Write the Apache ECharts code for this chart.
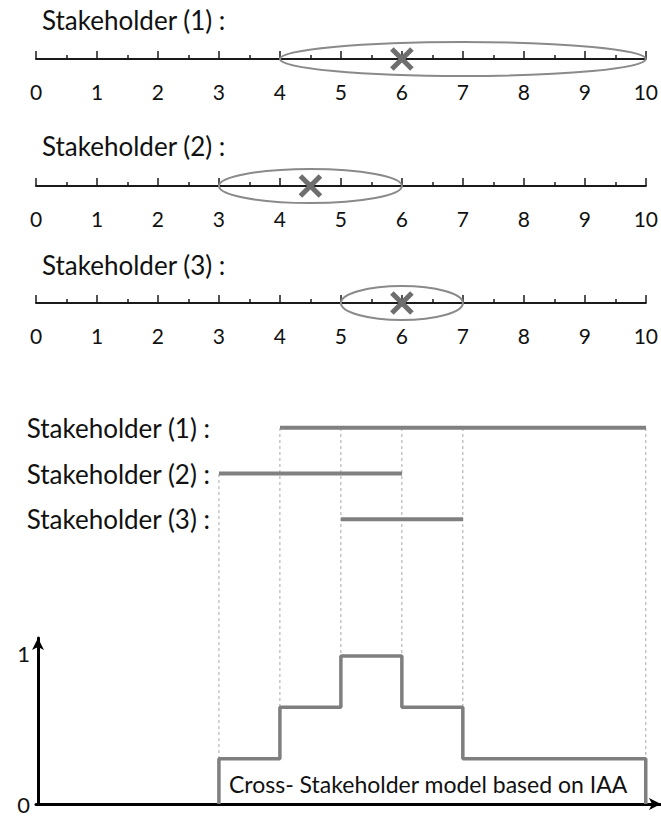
<!DOCTYPE html>
<html>
<head>
<meta charset="utf-8">
<script src="https://cdn.jsdelivr.net/npm/echarts@6/dist/echarts.min.js"></script>
<style>
  html, body { margin: 0; padding: 0; background: #fff; }
  #main { width: 661px; height: 819px; }
</style>
</head>
<body>
<div id="main"></div>
<script>
// stakeholder ranges on the 0..10 scale
const stakeholders = ['Stakeholder (1) :', 'Stakeholder (2) :', 'Stakeholder (3) :']
const rangeLow = [4, 3, 5]
const rangeHigh = [10, 6, 7]
const bestGuess = [6, 4.5, 6]
const tickLabels = ['0', '1', '2', '3', '4', '5', '6', '7', '8', '9', '10']

// cross-stakeholder step model
const stepX = [3, 3, 4, 5, 6, 7, 10]
const stepY = [0, 0.3, 0.64, 0.98, 0.64, 0.3, 0]
const levelLabels = ['0', '1']
const modelLabel = 'Cross- Stakeholder model based on IAA'

// dotted guides (x, top, bottom) in the model's y units
const guideX = [3, 4, 5, 6, 7, 10]
const guideTop = [2.185, 2.49, 2.49, 2.49, 2.49, 2.49]
const guideBottom = [0.3, 0.64, 0.98, 0.98, 0.64, 0.3]

const font = 'Lato'
const lineY = [59, 186, 303]
const labelY = [20, 146, 265]

let myChart = echarts.init(document.getElementById('main'), null, {renderer: 'svg'})

let grids = []
let xAxes = []
let yAxes = []
let series = []
let graphics = []

lineY.forEach((y, i) => {
  // 1px high grid: the axis line sits at its bottom edge
  grids.push({left: 36, width: 610, top: y - 1, height: 1})
  xAxes.push({
    gridIndex: i, type: 'value', min: 0, max: 10, interval: 1, position: 'bottom',
    axisLine: {show: true, onZero: false, lineStyle: {color: '#1a1a1a', width: 2}},
    axisTick: {show: true, inside: true, length: 8, lineStyle: {color: '#1a1a1a', width: 1.5}},
    minorTick: {show: true, splitNumber: 2, length: 4, lineStyle: {color: '#1a1a1a', width: 1.5}},
    axisLabel: {margin: 22, fontSize: 21, fontFamily: font, color: '#111',
      formatter: v => tickLabels[v] ?? ''},
    splitLine: {show: false}
  })
  yAxes.push({gridIndex: i, type: 'value', min: 0, max: 1, show: false})
  series.push({
    type: 'custom', xAxisIndex: i, yAxisIndex: i,
    data: [[rangeLow[i], rangeHigh[i]]],
    renderItem: (params, api) => {
      let a = api.coord([api.value(0), 0])
      let b = api.coord([api.value(1), 0])
      return {
        type: 'ellipse',
        shape: {cx: (a[0] + b[0]) / 2, cy: a[1], rx: (b[0] - a[0]) / 2, ry: 17},
        style: {fill: 'none', stroke: '#8a8a8a', lineWidth: 2}
      }
    }
  })
  series.push({
    type: 'custom', xAxisIndex: i, yAxisIndex: i,
    data: [[bestGuess[i], 0]],
    renderItem: (params, api) => {
      let c = api.coord([api.value(0), 0])
      let s = 10
      let st = {stroke: '#6e6e6e', lineWidth: 5}
      return {
        type: 'group',
        children: [
          {type: 'line', shape: {x1: c[0] - s, y1: c[1] - s, x2: c[0] + s, y2: c[1] + s}, style: st},
          {type: 'line', shape: {x1: c[0] - s, y1: c[1] + s, x2: c[0] + s, y2: c[1] - s}, style: st}
        ]
      }
    }
  })
  graphics.push({
    type: 'text', x: 42, y: labelY[i],
    style: {text: stakeholders[i], fontSize: 26, fontFamily: font, fill: '#111', verticalAlign: 'middle'}
  })
})

// grid 3: model area (x axis with arrow, guides, step line)
grids.push({left: 36, width: 625, top: 428, height: 376})
xAxes.push({
  gridIndex: 3, type: 'value', min: 0, max: 10.25,
  axisLine: {show: true, onZero: false, symbol: ['none', 'arrow'], symbolSize: [9, 12],
    lineStyle: {color: '#000', width: 3}},
  axisTick: {show: false}, axisLabel: {show: false}, splitLine: {show: false}
})
yAxes.push({gridIndex: 3, type: 'value', min: 0, max: 2.49, show: false})

// grid 4: y axis arrow with 0 / 1
grids.push({left: 38, width: 10, top: 638, height: 166})
xAxes.push({gridIndex: 4, type: 'value', min: 0, max: 1, show: false})
yAxes.push({
  gridIndex: 4, type: 'value', min: 0, max: 1.1, interval: 1,
  axisLine: {show: true, onZero: false, symbol: ['none', 'arrow'], symbolSize: [9, 12],
    lineStyle: {color: '#000', width: 3}},
  axisTick: {show: false},
  axisLabel: {margin: 8, fontSize: 22, fontFamily: font, color: '#111',
    formatter: v => levelLabels[v] ?? ''},
  splitLine: {show: false}
})

// grid 5: stakeholder rows
grids.push({left: 36, width: 610, top: 405, height: 137})
xAxes.push({gridIndex: 5, type: 'value', min: 0, max: 10, show: false})
yAxes.push({
  gridIndex: 5, type: 'category', data: stakeholders, inverse: true, offset: -176,
  axisLine: {show: false}, axisTick: {show: false},
  axisLabel: {margin: 2, fontSize: 26, fontFamily: font, color: '#111'},
  splitLine: {show: false}
})

series.push({
  type: 'custom', xAxisIndex: 3, yAxisIndex: 3,
  data: guideX.map((x, i) => [x, guideTop[i], guideBottom[i]]),
  renderItem: (params, api) => {
    let a = api.coord([api.value(0), api.value(1)])
    let b = api.coord([api.value(0), api.value(2)])
    return {
      type: 'line',
      shape: {x1: a[0], y1: a[1], x2: b[0], y2: b[1]},
      style: {stroke: '#a8a8a8', lineWidth: 1, lineDash: [3, 3]}
    }
  }
})

stakeholders.forEach((name, i) => {
  series.push({
    type: 'line', xAxisIndex: 5, yAxisIndex: 5, symbol: 'none',
    data: [[rangeLow[i], name], [rangeHigh[i], name]],
    lineStyle: {color: '#808080', width: 4}
  })
})

series.push({
  type: 'line', xAxisIndex: 3, yAxisIndex: 3, symbol: 'none', step: 'end',
  data: stepX.map((x, i) => [x, stepY[i]]),
  lineStyle: {color: '#7f7f7f', width: 3.5}
})

graphics.push({
  type: 'text', x: 229, y: 784,
  style: {text: modelLabel, fontSize: 23, fontFamily: font, fill: '#111', verticalAlign: 'middle'}
})

myChart.setOption({
  animation: false,
  grid: grids,
  xAxis: xAxes,
  yAxis: yAxes,
  series: series,
  graphic: graphics
})
</script>
</body>
</html>
